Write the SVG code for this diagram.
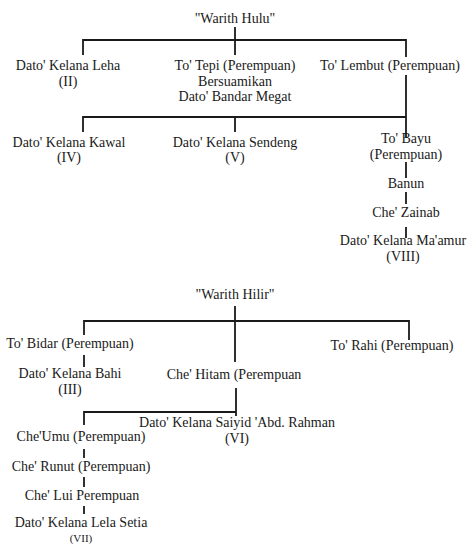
<svg xmlns="http://www.w3.org/2000/svg" width="469" height="544" viewBox="0 0 469 544">
<style>
text{font-family:"Liberation Serif","Times New Roman",serif;font-size:14px;fill:#1a1a1a;text-anchor:middle}
.c{fill:none;stroke:#1a1a1a;stroke-width:1.8}
</style>
<rect width="469" height="544" fill="#fff"/>
<g id="connectors" class="c">
<path d="M235,27V40M83,55V40H406V57M235,40V55"/>
<path d="M406,75V117H83V132M235,117V132M406,117V138"/>
<path d="M406,162V178M406,192V204M406,227V238"/>
<path d="M235,306V362M84,335V321H409V340"/>
<path d="M84,355V367"/>
<path d="M236,388V412H84V425M236,412V416"/>
<path d="M84,449V458M84,477V487M84,506V514"/>
</g>
<g id="n-hulu"><text x="235" y="23">"Warith Hulu"</text></g>
<g id="n-leha"><text x="68" y="70">Dato' Kelana Leha</text><text x="68" y="86">(II)</text></g>
<g id="n-tepi"><text x="235" y="70">To' Tepi (Perempuan)</text><text x="235" y="86">Bersuamikan</text><text x="235" y="101">Dato' Bandar Megat</text></g>
<g id="n-lembut"><text x="390" y="70">To' Lembut (Perempuan)</text></g>
<g id="n-kawal"><text x="69" y="147">Dato' Kelana Kawal</text><text x="69" y="162">(IV)</text></g>
<g id="n-sendeng"><text x="235" y="147">Dato' Kelana Sendeng</text><text x="235" y="162">(V)</text></g>
<g id="n-bayu"><text x="406" y="143">To' Bayu</text><text x="406" y="159">(Perempuan)</text></g>
<g id="n-banun"><text x="406" y="188">Banun</text></g>
<g id="n-zainab"><text x="406" y="217">Che' Zainab</text></g>
<g id="n-maamur"><text x="403" y="245">Dato' Kelana Ma'amur</text><text x="403" y="261">(VIII)</text></g>
<g id="n-hilir"><text x="235" y="299">"Warith Hilir"</text></g>
<g id="n-bidar"><text x="70" y="348">To' Bidar (Perempuan)</text></g>
<g id="n-bahi"><text x="70" y="378">Dato' Kelana Bahi</text><text x="70" y="394">(III)</text></g>
<g id="n-rahi"><text x="392" y="350">To' Rahi (Perempuan)</text></g>
<g id="n-hitam"><text x="234" y="379">Che' Hitam (Perempuan</text></g>
<g id="n-rahman"><text x="237" y="427">Dato' Kelana Saiyid 'Abd. Rahman</text><text x="237" y="443">(VI)</text></g>
<g id="n-umu"><text x="81" y="441">Che'Umu (Perempuan)</text></g>
<g id="n-runut"><text x="81" y="471">Che' Runut (Perempuan)</text></g>
<g id="n-lui"><text x="82" y="500">Che' Lui Perempuan</text></g>
<g id="n-lela"><text x="81" y="527">Dato' Kelana Lela Setia</text><text x="81" y="541.5" style="font-size:11px">(VII)</text></g>
</svg>
